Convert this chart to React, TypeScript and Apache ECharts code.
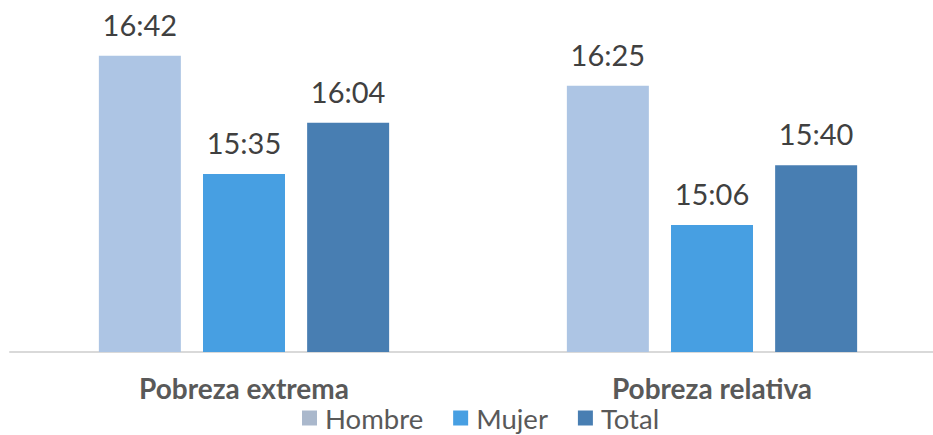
import React, { useEffect, useRef } from "react";
import * as echarts from "echarts";

const categories = ["Pobreza extrema", "Pobreza relativa"];
const seriesNames = ["Hombre", "Mujer", "Total"];
// values in minutes since midnight (HH:MM)
const hombre = [16 * 60 + 42, 16 * 60 + 25];
const mujer = [15 * 60 + 35, 15 * 60 + 6];
const total = [16 * 60 + 4, 15 * 60 + 40];
const colors = ["#adc5e4", "#479fe2", "#487eb2"];
const legendColors = ["#aab8cc", "#479fe2", "#487eb2"];

const fmt = (m: number) => {
  const h = Math.floor(m / 60);
  const mm = Math.round(m - h * 60);
  return `${h}:${mm < 10 ? "0" + mm : mm}`;
};

export default function App() {
  const ref = useRef<HTMLDivElement>(null);
  useEffect(() => {
    document.body.style.margin = "0";
    const chart = echarts.init(ref.current!, undefined, { renderer: "svg" });
    const data = [hombre, mujer, total];
    chart.setOption({
      animation: false,
      textStyle: { fontFamily: "Lato" },
      grid: { left: 10, width: 936, top: 10, bottom: 83, containLabel: false },
      legend: {
        bottom: 3,
        left: 302,
        padding: 0,
        itemWidth: 15,
        itemHeight: 15,
        itemGap: 30,
        icon: "rect",
        textStyle: {
          fontSize: 27.5,
          lineHeight: 27,
          color: "#595959",
          fontFamily: "Lato",
          padding: [0, 0, 0, 3],
        },
        data: seriesNames.map((n, i) => ({ name: n, itemStyle: { color: legendColors[i] } })),
      },
      xAxis: {
        type: "category",
        data: categories,
        axisTick: { show: false },
        axisLine: { lineStyle: { color: "#d9d9d9", width: 2 } },
        axisLabel: {
          fontSize: 28,
          lineHeight: 27,
          fontWeight: "bold",
          color: "#595959",
          margin: 22,
          fontFamily: "Lato",
        },
      },
      yAxis: {
        type: "value",
        min: 834,
        max: 1028,
        show: false,
        splitLine: { show: false },
      },
      series: seriesNames.map((n, i) => ({
        name: n,
        type: "bar",
        data: data[i],
        barWidth: 82,
        barGap: "27%",
        itemStyle: { color: colors[i] },
        label: {
          show: true,
          position: "top",
          distance: 17,
          fontSize: 29,
          color: "#404040",
          fontFamily: "Lato",
          formatter: (p: any) => fmt(p.value),
        },
      })),
    });
    return () => chart.dispose();
  }, []);
  return (
    <div style={{ width: 933, height: 435, overflow: "hidden", position: "relative" }}>
      <div ref={ref} style={{ width: 960, height: 435 }} />
    </div>
  );
}
